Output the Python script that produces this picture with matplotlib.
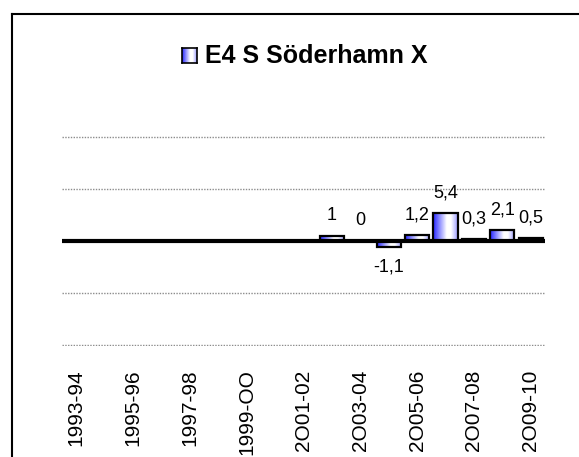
import numpy as np
import matplotlib
matplotlib.use('Agg')
import matplotlib.pyplot as plt
from matplotlib.colors import LinearSegmentedColormap
from matplotlib.lines import Line2D

plt.rcParams['font.family'] = ['Liberation Sans', 'DejaVu Sans']

# seasons shown on the x axis (labels as written in the source chart)
seasons = ['1993-94', '1994-95', '1995-96', '1996-97', '1997-98', '1998-99',
           '1999-OO', '2000-01', '2O01-02', '2002-03', '2O03-04', '2004-05',
           '2O05-06', '2006-07', '2O07-08', '2008-09', '2O09-10']
# values, None where the season has no bar
values = [None, None, None, None, None, None, None, None, None,
          1, 0, -1.1, 1.2, 5.4, 0.3, 2.1, 0.5]
series_name = 'E4 S Söderhamn X'
grid_levels = [-20, -10, 10, 20]

W, H = 579, 457
fig = plt.figure(figsize=(W / 100, H / 100), dpi=100)
ax = fig.add_axes([62 / W, (H - 346) / H, 483 / W, 210 / H])

gradient = LinearSegmentedColormap.from_list(
    'bar', [(0, '#2626ff'), (0.55, '#ffffff'), (0.72, '#ffffff'), (1, '#9c9cff')])
ramp = np.linspace(0, 1, 64).reshape(1, -1)

x = np.arange(len(seasons))
heights = [v if v is not None else 0 for v in values]
bars = ax.bar(x, heights, width=0.85, facecolor='none', edgecolor='black',
              linewidth=1.6, zorder=3)
for rect, v in zip(bars, values):
    if v is None:
        rect.set_visible(False)
        continue
    x0, w = rect.get_x(), rect.get_width()
    y0, y1 = sorted([0, rect.get_height()])
    if y1 > y0:
        im = ax.imshow(ramp, cmap=gradient, aspect='auto',
                       extent=[x0, x0 + w, y0, y1], zorder=2)
        im.set_clip_path(rect)
    label = f'{v:g}'.replace('.', ',')
    off = -14.5 if v < 0 else 14.5
    ax.annotate(label, (rect.get_x() + w / 2, v), xytext=(0, off),
                textcoords='offset points', ha='center', va='center',
                fontsize=13)

for g in grid_levels:
    ax.axhline(g, color='#8c8c8c', linewidth=1.0, linestyle=(0, (1, 1)), zorder=1)
ax.axhline(0, color='black', linewidth=3, zorder=4)

ax.set_xlim(-0.5, len(seasons) - 0.5)
ax.set_ylim(-20.2, 20.2)
ax.set_xticks(x[::2])
ax.set_xticklabels(seasons[::2], rotation=90, fontsize=15)
ax.tick_params(axis='x', length=0, pad=17)
ax.set_yticks([])
for s in ax.spines.values():
    s.set_visible(False)

# legend swatch + name at the top
sw = fig.add_axes([182 / W, (H - 63) / H, 15 / W, 15 / H])
sw.imshow(ramp, cmap=gradient, aspect='auto')
sw.set_xticks([])
sw.set_yticks([])
for s in sw.spines.values():
    s.set_linewidth(1.2)
fig.text(205 / W, (H - 56) / H, series_name, fontsize=18, fontweight='bold',
         va='center', ha='left')

# chart frame
fig.add_artist(Line2D([12 / W, 12 / W], [0, 1 - 14 / H], color='black', linewidth=1.5))
fig.add_artist(Line2D([12 / W, 1], [1 - 14 / H, 1 - 14 / H], color='black', linewidth=1.5))

fig.savefig('out.png', dpi=100)
